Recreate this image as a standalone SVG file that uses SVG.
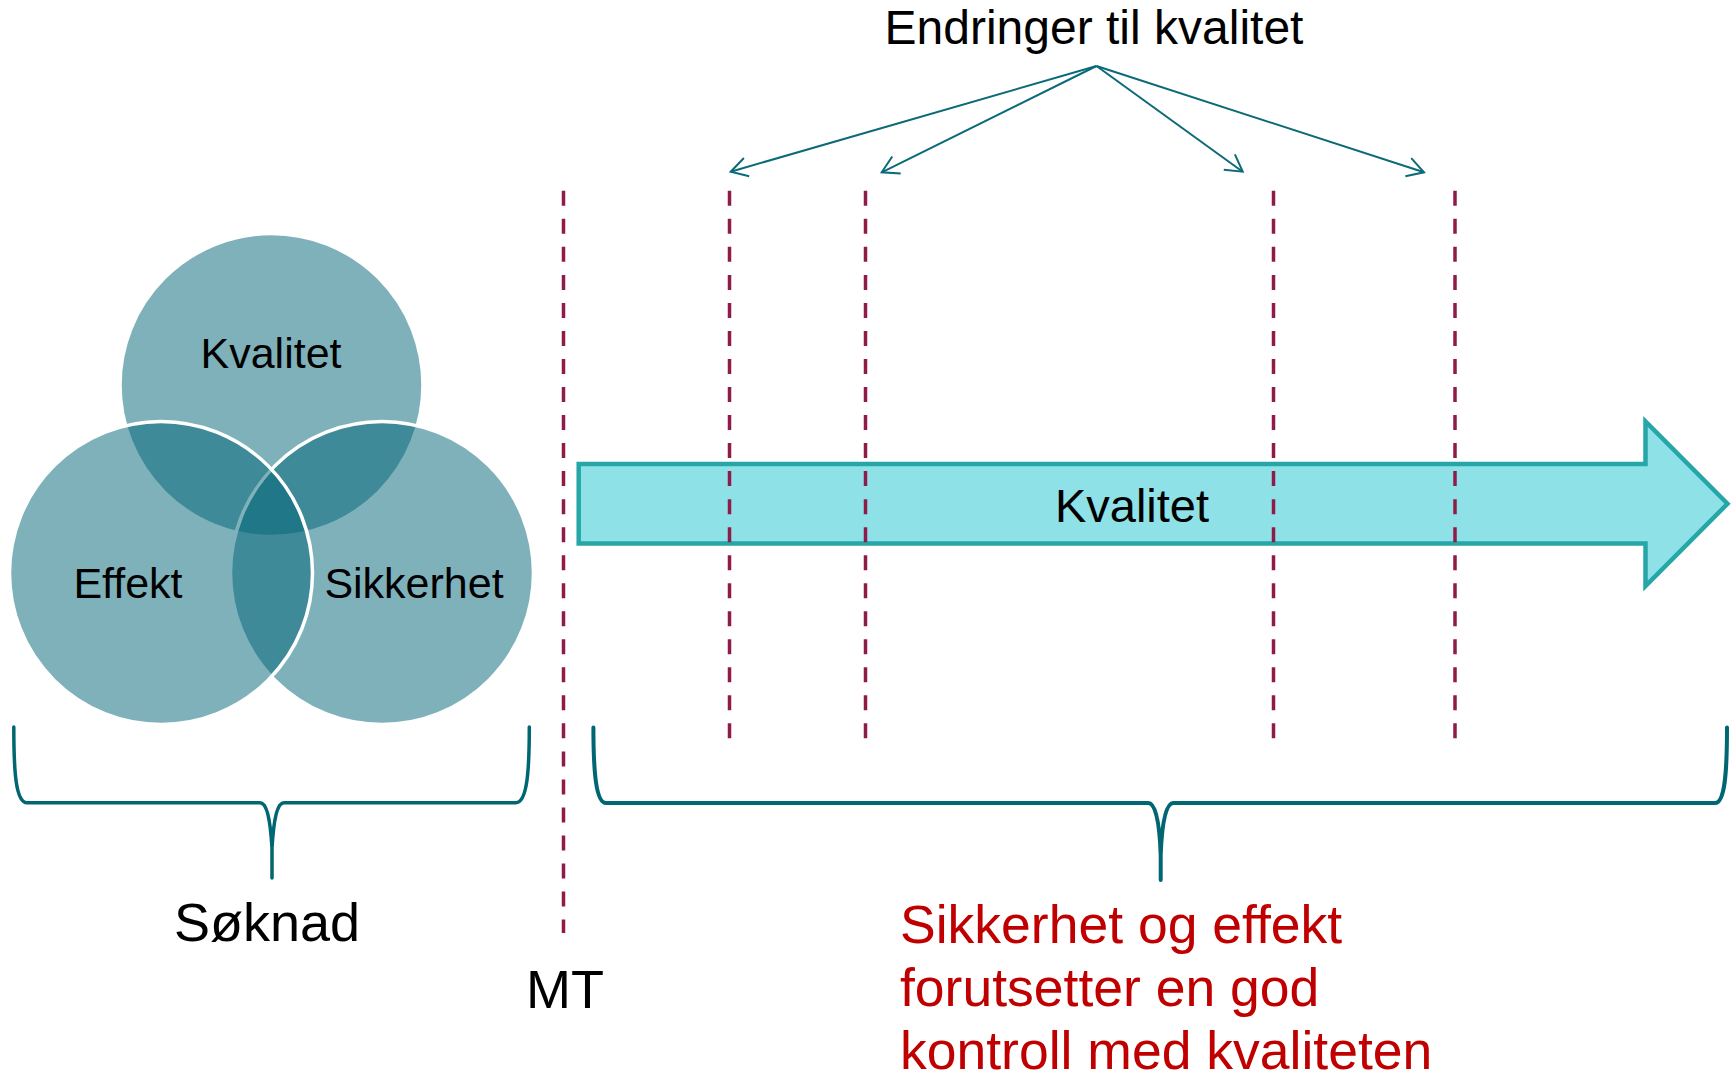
<svg xmlns="http://www.w3.org/2000/svg" width="1736" height="1075" viewBox="0 0 1736 1075">
  <style>
    text { font-family: "Liberation Sans", Arial, sans-serif; fill: #000; }
    .venn { fill: #006475; fill-opacity: 0.5; stroke: #fff; stroke-width: 3.5; }
    .vlabel { font-size: 43px; text-anchor: middle; }
    .dash { stroke: #8E1B48; stroke-width: 3.5; stroke-dasharray: 15 13.03; fill: none; }
    .brace { fill: none; stroke: #006672; stroke-linejoin: round; stroke-linecap: round; }
    .conn { stroke: #0B6A78; stroke-width: 2; fill: none; marker-end: url(#ah); }
    .red { fill: #C00000; font-size: 53.5px; }
  </style>
  <defs>
    <marker id="ah" markerUnits="userSpaceOnUse" markerWidth="24" markerHeight="24" refX="0" refY="0" orient="auto" overflow="visible">
      <path d="M-16.5,-9.5 L0,0 L-16.5,9.5" fill="none" stroke="#0B6A78" stroke-width="2" stroke-linejoin="miter"/>
    </marker>
  </defs>
  <rect width="1736" height="1075" fill="#fff"/>

  <g id="venn">
    <g id="node-kvalitet">
      <circle class="venn" cx="271.5" cy="385" r="151.5"/>
    </g>
    <g id="node-sikkerhet">
      <circle class="venn" cx="382" cy="573" r="151.5"/>
    </g>
    <g id="node-effekt">
      <circle class="venn" cx="161" cy="573" r="151.5"/>
    </g>
    <text class="vlabel" x="271" y="368.3">Kvalitet</text>
    <text class="vlabel" x="128" y="598.3">Effekt</text>
    <text class="vlabel" x="414" y="598.3">Sikkerhet</text>
  </g>

  <g id="node-kvalitet-arrow">
    <path d="M578.7,464 L1645.5,464 L1645.5,421.5 L1727.5,503.75 L1645.5,586 L1645.5,543.5 L578.7,543.5 Z" fill="#8EE2E7" stroke="#27A6A8" stroke-width="4.5"/>
    <text x="1132" y="521.7" font-size="47" text-anchor="middle">Kvalitet</text>
  </g>

  <g id="dashed-lines">
    <line class="dash" x1="563.5" y1="190.8" x2="563.5" y2="933"/>
    <line class="dash" x1="729.5" y1="190.8" x2="729.5" y2="738.4"/>
    <line class="dash" x1="865.5" y1="190.8" x2="865.5" y2="738.4"/>
    <line class="dash" x1="1273.5" y1="190.8" x2="1273.5" y2="738.4"/>
    <line class="dash" x1="1455" y1="190.8" x2="1455" y2="738.4"/>
  </g>

  <g id="node-endringer">
    <text x="1094" y="44" font-size="48" text-anchor="middle">Endringer til kvalitet</text>
  </g>

  <g id="connectors">
    <line class="conn" x1="1096.5" y1="66" x2="730.7" y2="171.7"/>
    <line class="conn" x1="1096.5" y1="66" x2="881.7" y2="172.3"/>
    <line class="conn" x1="1096.5" y1="66" x2="1242.7" y2="171.7"/>
    <line class="conn" x1="1096.5" y1="66" x2="1424" y2="172.3"/>
  </g>

  <g id="node-soknad-brace">
    <path class="brace" stroke-width="3.5" d="M13.8,727 C13.8,770 15.5,802.7 27,802.7 L260,802.7 C266,802.7 270,815 272,848 L272,878 L272,848 C274,815 278,802.7 284,802.7 L515.8,802.7 C527.3,802.7 529.3,770 529.3,727"/>
    <text x="174" y="941" font-size="54">Søknad</text>
  </g>

  <g id="node-mt">
    <text x="526" y="1008.3" font-size="54">MT</text>
  </g>

  <g id="node-right-brace">
    <path class="brace" stroke-width="4" d="M593.4,727.5 C593.4,772 596,803 606,803 L1148.3,803 C1155,803 1159.5,820 1160.7,855 L1160.7,880 L1160.7,855 C1162,820 1166.4,803 1173.3,803 L1715,803 C1725,803 1727,772 1727,727.5"/>
    <text class="red" x="900" y="942.7">Sikkerhet og effekt</text>
    <text class="red" x="900" y="1006">forutsetter en god</text>
    <text class="red" x="900" y="1069">kontroll med kvaliteten</text>
  </g>
</svg>
